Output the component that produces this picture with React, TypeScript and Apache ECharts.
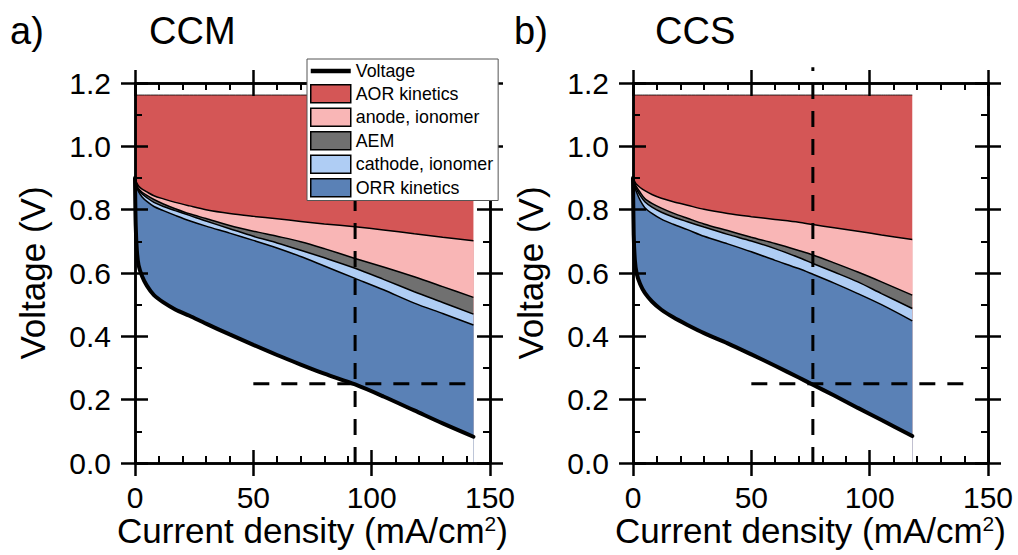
import React, { useEffect, useRef } from 'react';
import * as echarts from 'echarts';

// ---- CCM panel (a) ----
const ccmCurrent = [0, 0.3, 0.8, 1.5, 3, 5, 8, 12, 17, 23, 30, 40, 50, 60, 70, 80, 93, 105, 118, 130, 143];
const ccmVoltage = [0.9, 0.75, 0.67, 0.625, 0.59, 0.56, 0.53, 0.507, 0.485, 0.465, 0.44, 0.406, 0.373, 0.341, 0.311, 0.282, 0.248, 0.21, 0.166, 0.125, 0.083];
const ccmOrrTop = [0.9, 0.885, 0.87, 0.857, 0.84, 0.826, 0.81, 0.797, 0.782, 0.765, 0.748, 0.726, 0.703, 0.679, 0.652, 0.622, 0.583, 0.547, 0.505, 0.472, 0.436];
const ccmCathodeTop = [0.9, 0.888, 0.874, 0.862, 0.85, 0.838, 0.823, 0.81, 0.797, 0.782, 0.764, 0.74, 0.716, 0.695, 0.672, 0.648, 0.615, 0.58, 0.541, 0.507, 0.47];
const ccmAemTop = [0.9, 0.89, 0.878, 0.866, 0.855, 0.845, 0.832, 0.818, 0.803, 0.787, 0.772, 0.75, 0.732, 0.716, 0.699, 0.677, 0.646, 0.619, 0.588, 0.557, 0.523];
const ccmAnodeTop = [0.9, 0.893, 0.884, 0.875, 0.865, 0.856, 0.844, 0.834, 0.823, 0.812, 0.8, 0.788, 0.779, 0.771, 0.763, 0.755, 0.746, 0.736, 0.724, 0.713, 0.702];
const ccmAorTop = 1.162;
const ccmGuideCurrent = 93;

// ---- CCS panel (b) ----
const ccsCurrent = [0, 0.3, 0.8, 1.5, 3, 5, 8, 12, 17, 23, 30, 40, 50, 60, 70, 76, 85, 95, 105, 118];
const ccsVoltage = [0.9, 0.72, 0.64, 0.6, 0.565, 0.537, 0.51, 0.484, 0.46, 0.436, 0.41, 0.378, 0.343, 0.307, 0.27, 0.247, 0.213, 0.174, 0.136, 0.085];
const ccsOrrTop = [0.9, 0.885, 0.87, 0.855, 0.83, 0.806, 0.788, 0.77, 0.754, 0.737, 0.716, 0.692, 0.667, 0.64, 0.614, 0.596, 0.568, 0.535, 0.5, 0.449];
const ccsCathodeTop = [0.9, 0.889, 0.878, 0.865, 0.845, 0.825, 0.808, 0.792, 0.777, 0.762, 0.745, 0.722, 0.701, 0.677, 0.649, 0.63, 0.603, 0.572, 0.535, 0.488];
const ccsAemTop = [0.9, 0.892, 0.883, 0.872, 0.855, 0.835, 0.82, 0.805, 0.789, 0.773, 0.755, 0.734, 0.713, 0.693, 0.671, 0.657, 0.632, 0.603, 0.572, 0.53];
const ccsAnodeTop = [0.9, 0.895, 0.888, 0.88, 0.87, 0.86, 0.848, 0.836, 0.825, 0.814, 0.801, 0.788, 0.778, 0.769, 0.76, 0.753, 0.743, 0.732, 0.72, 0.706];
const ccsAorTop = 1.162;
const ccsGuideCurrent = 76;

// shared guide lines
const guideVoltage = 0.25;
const guideFrom = 50;
const guideTo = 140;
const guideTop = 1.25;

const xTicks = { min: 0, max: 150, interval: 50 };
const yTicks = { min: 0, max: 1.2, interval: 0.2 };

const FONT = '"Liberation Sans", Arial, Helvetica, sans-serif';
const COLORS = {
  aor: '#D45656',
  anode: '#F9B6B6',
  aem: '#707070',
  cathode: '#AFCDF4',
  orr: '#5A81B6',
};

const axisStroke = { color: '#000', width: 2.5 };
const minorStroke = { color: '#000', width: 2 };
const SMOOTH = 0.3;
const TICK_FONT = 30;
const TITLE_FONT = 35;

function xAxesFor(gridIndex: number) {
  const base = {
    type: 'value',
    gridIndex,
    ...xTicks,
    z: 6,
    splitLine: { show: false },
    axisLine: { show: true, onZero: false, lineStyle: axisStroke },
  };
  return [
    {
      ...base,
      position: 'bottom',
      axisTick: { inside: true, length: 13, lineStyle: axisStroke },
      minorTick: { show: true, splitNumber: 5, length: 7, lineStyle: minorStroke },
      axisLabel: { show: false },
    },
    {
      ...base,
      position: 'bottom',
      axisTick: { inside: false, length: 13, lineStyle: axisStroke },
      axisLabel: { show: true, margin: 19, fontSize: TICK_FONT, color: '#000', fontFamily: FONT },
      name: '{t|Current density (mA/cm}{s|2}{t|)}',
      nameLocation: 'middle',
      nameGap: 50,
      nameMoveOverlap: false,
      nameTextStyle: {
        fontSize: TITLE_FONT,
        fontFamily: FONT,
        color: '#000',
        rich: {
          t: { fontSize: TITLE_FONT, fontFamily: FONT, color: '#000' },
          s: { fontSize: 21, fontFamily: FONT, color: '#000', verticalAlign: 'top' },
        },
      },
    },
    {
      ...base,
      position: 'top',
      axisTick: { inside: true, length: 13, lineStyle: axisStroke },
      minorTick: { show: true, splitNumber: 5, length: 7, lineStyle: minorStroke },
      axisLabel: { show: false },
    },
    {
      ...base,
      position: 'top',
      axisTick: { inside: false, length: 13, lineStyle: axisStroke },
      axisLabel: { show: false },
    },
  ];
}

function yAxesFor(gridIndex: number) {
  const base = {
    type: 'value',
    gridIndex,
    ...yTicks,
    z: 6,
    splitLine: { show: false },
    axisLine: { show: true, onZero: false, lineStyle: axisStroke },
  };
  return [
    {
      ...base,
      position: 'left',
      axisTick: { inside: true, length: 13, lineStyle: axisStroke },
      minorTick: { show: true, splitNumber: 2, length: 7, lineStyle: minorStroke },
      axisLabel: { show: false },
    },
    {
      ...base,
      position: 'left',
      axisTick: { inside: false, length: 14, lineStyle: axisStroke },
      axisLabel: {
        show: true,
        margin: 24,
        fontSize: TICK_FONT,
        color: '#000',
        fontFamily: FONT,
        formatter: (v: number) => v.toFixed(1),
      },
      name: 'Voltage (V)',
      nameLocation: 'middle',
      nameGap: 85,
      nameMoveOverlap: false,
      nameTextStyle: { fontSize: TITLE_FONT, fontFamily: FONT, color: '#000' },
    },
    {
      ...base,
      position: 'right',
      axisTick: { inside: true, length: 13, lineStyle: axisStroke },
      minorTick: { show: true, splitNumber: 2, length: 7, lineStyle: minorStroke },
      axisLabel: { show: false },
    },
    {
      ...base,
      position: 'right',
      axisTick: { inside: false, length: 13, lineStyle: axisStroke },
      axisLabel: { show: false },
    },
  ];
}

// Each loss band is drawn as an area from its upper boundary down to the x axis;
// the bands are layered from the top boundary downwards, and the region under the
// cell-voltage curve is painted white last, so every band shows only between its
// own boundary and the next one below.
function panelSeries(
  key: string,
  axisIndex: number,
  current: number[],
  voltage: number[],
  orrTop: number[],
  cathodeTop: number[],
  aemTop: number[],
  anodeTop: number[],
  aorTop: number,
  guideCurrent: number,
) {
  const pts = (vals: number[]) => current.map((x, i) => [x, vals[i]]);
  const aorLevel = current.map(() => aorTop);
  const common = {
    type: 'line',
    xAxisIndex: axisIndex,
    yAxisIndex: axisIndex,
    symbol: 'none',
    smooth: SMOOTH,
    silent: true,
    z: 2,
  };
  const band = (name: string, color: string, vals: number[], width = 1.5) => ({
    ...common,
    name,
    data: pts(vals),
    itemStyle: { color },
    areaStyle: { color, opacity: 1, origin: 'start' },
    lineStyle: { color: '#000', width },
  });
  const guide = { color: '#000', width: 3, type: [16, 12] };
  return [
    band('AOR kinetics', COLORS.aor, aorLevel, 0.8),
    band('anode, ionomer', COLORS.anode, anodeTop),
    band('AEM', COLORS.aem, aemTop),
    band('cathode, ionomer', COLORS.cathode, cathodeTop),
    band('ORR kinetics', COLORS.orr, orrTop),
    {
      ...common,
      name: key + ' below cell voltage',
      data: pts(voltage),
      itemStyle: { color: '#fff' },
      areaStyle: { color: '#fff', opacity: 1, origin: 'start' },
      lineStyle: { width: 0, opacity: 0 },
    },
    {
      ...common,
      name: 'Voltage',
      data: pts(voltage),
      itemStyle: { color: '#000' },
      lineStyle: { color: '#000', width: 4, cap: 'round' },
      z: 3,
    },
    {
      type: 'line',
      name: key + ' guide current',
      xAxisIndex: axisIndex,
      yAxisIndex: axisIndex,
      data: [
        [guideCurrent, 0],
        [guideCurrent, guideTop],
      ],
      symbol: 'none',
      clip: false,
      silent: true,
      lineStyle: guide,
      z: 4,
    },
    {
      type: 'line',
      name: key + ' guide voltage',
      xAxisIndex: axisIndex,
      yAxisIndex: axisIndex,
      data: [
        [guideFrom, guideVoltage],
        [guideTo, guideVoltage],
      ],
      symbol: 'none',
      silent: true,
      lineStyle: guide,
      z: 4,
    },
  ];
}

function buildOption() {
  const panelTitle = (text: string, left: number) => ({
    type: 'text',
    left,
    top: 12,
    style: { text, fontSize: 38, fontFamily: FONT, fill: '#000' },
  });
  return {
    animation: false,
    backgroundColor: '#fff',
    grid: [
      { left: 135, right: 528, top: 83, bottom: 92, outerBoundsMode: 'none', containLabel: false },
      { left: 633, right: 30, top: 83, bottom: 92, outerBoundsMode: 'none', containLabel: false },
    ],
    xAxis: [...xAxesFor(0), ...xAxesFor(1)],
    yAxis: [...yAxesFor(0), ...yAxesFor(1)],
    legend: {
      orient: 'vertical',
      left: 307,
      top: 59,
      itemWidth: 40,
      itemHeight: 18,
      itemGap: 4,
      padding: [3, 5, 3, 3],
      backgroundColor: '#fff',
      borderColor: '#555',
      borderWidth: 1,
      borderRadius: 0,
      selectedMode: false,
      z: 10,
      textStyle: { fontSize: 17.8, color: '#000', fontFamily: FONT },
      itemStyle: { borderColor: '#000', borderWidth: 1.5 },
      data: [
        { name: 'Voltage', icon: 'path://M0,0H44V5H0Z', itemStyle: { color: '#000', borderWidth: 0 } },
        { name: 'AOR kinetics', icon: 'rect' },
        { name: 'anode, ionomer', icon: 'rect' },
        { name: 'AEM', icon: 'rect' },
        { name: 'cathode, ionomer', icon: 'rect' },
        { name: 'ORR kinetics', icon: 'rect' },
      ],
    },
    graphic: [
      panelTitle('a)', 10),
      panelTitle('CCM', 149),
      panelTitle('b)', 514),
      panelTitle('CCS', 655),
    ],
    series: [
      ...panelSeries('ccm', 0, ccmCurrent, ccmVoltage, ccmOrrTop, ccmCathodeTop, ccmAemTop, ccmAnodeTop, ccmAorTop, ccmGuideCurrent),
      ...panelSeries('ccs', 4, ccsCurrent, ccsVoltage, ccsOrrTop, ccsCathodeTop, ccsAemTop, ccsAnodeTop, ccsAorTop, ccsGuideCurrent),
    ],
  };
}

export default function App() {
  const ref = useRef<HTMLDivElement>(null);
  useEffect(() => {
    document.body.style.margin = '0';
    const chart = echarts.init(ref.current!, null, { renderer: 'svg' });
    chart.setOption(buildOption() as any);
    return () => chart.dispose();
  }, []);
  return <div ref={ref} style={{ width: 1018, height: 555 }} />;
}
